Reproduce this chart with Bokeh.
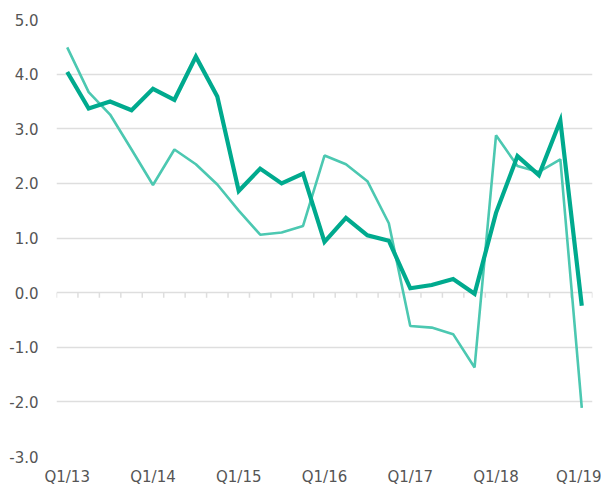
import math
from bokeh.plotting import figure
from bokeh.models import Range1d, FixedTicker, ColumnDataSource
from bokeh.embed import file_html
from bokeh.resources import INLINE

quarters = [f"Q{q}/{y}" for y in range(13, 20) for q in range(1, 5)][:25]
tick_labels = ["Q1/13", "Q1/14", "Q1/15", "Q1/16", "Q1/17", "Q1/18", "Q1/19"]

series_thick = [4.04, 3.37, 3.50, 3.34, 3.73, 3.53, 4.32, 3.59, 1.86, 2.27,
                2.00, 2.18, 0.93, 1.37, 1.05, 0.95, 0.08, 0.14, 0.25, -0.02,
                1.46, 2.50, 2.15, 3.15, -0.24]
series_thin = [4.49, 3.67, 3.26, 2.62, 1.97, 2.62, 2.35, 1.98, 1.50, 1.06,
               1.10, 1.22, 2.51, 2.35, 2.04, 1.27, -0.61, -0.64, -0.76, -1.37,
               2.88, 2.32, 2.21, 2.44, -2.11]

n = len(quarters)
xs = list(range(n))

p = figure(width=601, height=488, output_backend="svg", toolbar_location=None,
           x_range=Range1d(-0.5, n - 0.5), y_range=Range1d(-3, 5),
           min_border_left=56, min_border_right=9, min_border_top=19,
           min_border_bottom=28)
p.outline_line_color = None
p.background_fill_color = "white"
p.border_fill_color = "white"

# grid
p.xgrid.grid_line_color = None
p.ygrid.ticker = FixedTicker(ticks=list(range(-3, 6)))
p.ygrid.grid_line_color = "#dedede"
p.ygrid.grid_line_width = 1.5

# y axis
p.yaxis.ticker = FixedTicker(ticks=list(range(-3, 6)))
p.yaxis.major_label_overrides = {v: f"{v:.1f}" for v in range(-3, 6)}
p.yaxis.axis_line_color = None
p.yaxis.major_tick_line_color = None
p.yaxis.minor_tick_line_color = None
p.yaxis.major_tick_out = 0
p.yaxis.major_tick_in = 0
p.yaxis.major_label_standoff = 18
p.yaxis.major_label_text_font = "DejaVu Sans"
p.yaxis.major_label_text_font_size = "15px"
p.yaxis.major_label_text_color = "#555555"

# x axis
tick_pos = [quarters.index(t) for t in tick_labels]
p.xaxis.ticker = FixedTicker(ticks=tick_pos)
p.xaxis.major_label_overrides = {i: quarters[i] for i in tick_pos}
p.xaxis.axis_line_color = None
p.xaxis.major_tick_line_color = None
p.xaxis.minor_tick_line_color = None
p.xaxis.major_tick_out = 0
p.xaxis.major_tick_in = 0
p.xaxis.major_label_standoff = 11
p.xaxis.major_label_text_font = "DejaVu Sans"
p.xaxis.major_label_text_font_size = "15px"
p.xaxis.major_label_text_color = "#555555"

# tick marks on the zero line at quarter boundaries
bounds = [i - 0.5 for i in range(n + 1)]
p.ray(x=bounds, y=[0] * len(bounds), length=5, length_units="screen",
      angle=-math.pi / 2, line_color="#dedede", line_width=1.5)

src = ColumnDataSource(dict(x=xs, thick=series_thick, thin=series_thin))
p.line("x", "thin", source=src, line_color="#4cc8b1", line_width=2.6)
p.line("x", "thick", source=src, line_color="#00aa8e", line_width=4.2,
       line_join="miter")

open("out.html", "w").write(file_html(p, INLINE))
